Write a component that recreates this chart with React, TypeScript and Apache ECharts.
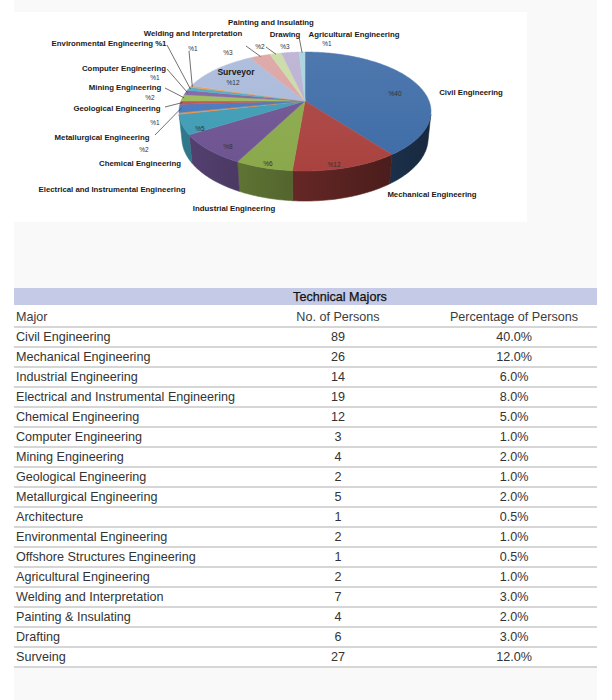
import React, { useEffect, useRef } from "react";
import * as echarts from "echarts";

// ---------------- data ----------------
const tableTitle = "Technical Majors";
const columnHeaders = ["Major", "No. of Persons", "Percentage of Persons"];
const majors = [
  "Civil Engineering",
  "Mechanical Engineering",
  "Industrial Engineering",
  "Electrical and Instrumental Engineering",
  "Chemical Engineering",
  "Computer Engineering",
  "Mining Engineering",
  "Geological Engineering",
  "Metallurgical Engineering",
  "Architecture",
  "Environmental Engineering",
  "Offshore Structures Engineering",
  "Agricultural Engineering",
  "Welding and Interpretation",
  "Painting & Insulating",
  "Drafting",
  "Surveing",
];
const persons = [89, 26, 14, 19, 12, 3, 4, 2, 5, 1, 2, 1, 2, 7, 4, 6, 27];
const percentages = [
  "40.0%", "12.0%", "6.0%", "8.0%", "5.0%", "1.0%", "2.0%", "1.0%", "2.0%",
  "0.5%", "1.0%", "0.5%", "1.0%", "3.0%", "2.0%", "3.0%", "12.0%",
];

// order of the majors around the pie, clockwise from 12 o'clock
const pieOrder = [0, 1, 2, 3, 4, 9, 8, 7, 6, 5, 10, 11, 16, 13, 14, 15, 12];
const pieColors = [
  "#3f6ca7", "#a9423f", "#8aa84b", "#6d5391", "#3d9bb4", "#ef8a3a", "#4677bd",
  "#c0504d", "#9bbb59", "#8064a2", "#4bacc6", "#f79646", "#a9b9da", "#dba4a3",
  "#c9dba5", "#bbb0d2", "#a6d2df",
];

// pie data labels (text as printed on the chart)
type PieLabel = { text: string; x: number; y: number; kind: "name" | "value" | "big"; from?: number[]; major?: number };
const pieLabels: PieLabel[] = [
  { text: "Civil Engineering", x: 471, y: 92, kind: "name" },
  { text: "%40", x: 395, y: 93, kind: "value" },
  { text: "Mechanical Engineering", x: 432, y: 194, kind: "name" },
  { text: "%12", x: 334, y: 164, kind: "value" },
  { text: "Industrial Engineering", x: 234, y: 208, kind: "name" },
  { text: "%6", x: 268, y: 163, kind: "value" },
  { text: "Electrical and Instrumental Engineering", x: 112, y: 189, kind: "name" },
  { text: "%8", x: 228, y: 146, kind: "value" },
  { text: "Chemical Engineering", x: 140, y: 163, kind: "name" },
  { text: "%5", x: 200, y: 128, kind: "value" },
  { text: "Metallurgical Engineering", x: 102, y: 137, kind: "name", from: [155, 135], major: 8 },
  { text: "%2", x: 144, y: 149, kind: "value" },
  { text: "Geological Engineering", x: 117, y: 108, kind: "name", from: [165, 107], major: 7 },
  { text: "%1", x: 155, y: 122, kind: "value" },
  { text: "Mining Engineering", x: 125, y: 87, kind: "name", from: [165, 88], major: 6 },
  { text: "%2", x: 150, y: 97, kind: "value" },
  { text: "Computer Engineering", x: 124, y: 68, kind: "name", from: [167, 69], major: 5 },
  { text: "%1", x: 155, y: 77, kind: "value" },
  { text: "Environmental Engineering %1", x: 109, y: 43, kind: "name", from: [167, 45], major: 10 },
  { text: "Welding and Interpretation", x: 193, y: 33, kind: "name" },
  { text: "%1", x: 193, y: 48, kind: "value", from: [189, 51], major: 11 },
  { text: "Surveyor", x: 236, y: 72, kind: "big" },
  { text: "%12", x: 233, y: 82, kind: "value" },
  { text: "%3", x: 228, y: 52, kind: "value", from: [246, 46], major: 13 },
  { text: "%2", x: 260, y: 46, kind: "value", from: [266, 47], major: 14 },
  { text: "%3", x: 285, y: 46, kind: "value" },
  { text: "Painting and Insulating", x: 271, y: 22, kind: "name" },
  { text: "Drawing", x: 285, y: 34, kind: "name" },
  { text: "Agricultural Engineering", x: 354, y: 34, kind: "name", from: [299, 37], major: 12 },
  { text: "%1", x: 327, y: 43, kind: "value" },
];

// ---------------- pie geometry (perspective 3D pie) ----------------
const PIE_CX = 305;
const PIE_CY = 101;
const FOCAL = 621.9;
const DIST = 5.015;
const TILT = (27.7 * Math.PI) / 180;
const THICK = 0.246;
const SA = Math.sin(TILT);
const CA = Math.cos(TILT);
const VIS0 = (Math.acos(-1 / (DIST * CA)) * 180) / Math.PI;
const VIS1 = 360 - VIS0;

function proj(deg: number, h: number, r = 1): number[] {
  const p = (deg * Math.PI) / 180;
  const x = r * Math.sin(p);
  const z = -r * Math.cos(p);
  const dep = DIST - z * CA - h * SA;
  return [PIE_CX + (FOCAL * x) / dep, PIE_CY + (FOCAL * (z * SA - h * CA)) / dep];
}
function arc(a0: number, a1: number, h: number): number[][] {
  const n = Math.max(2, Math.ceil(Math.abs(a1 - a0) / 1.2));
  const pts: number[][] = [];
  for (let i = 0; i <= n; i++) pts.push(proj(a0 + ((a1 - a0) * i) / n, h));
  return pts;
}
function rgb(hex: string): number[] {
  const v = parseInt(hex.slice(1), 16);
  return [(v >> 16) & 255, (v >> 8) & 255, v & 255];
}
function shade(hex: string, k: number): string {
  const [r, g, b] = rgb(hex);
  return `rgb(${Math.round(r * k)},${Math.round(g * k)},${Math.round(b * k)})`;
}
function lighten(hex: string, k: number): string {
  const [r, g, b] = rgb(hex);
  return `rgb(${Math.round(r + (255 - r) * k)},${Math.round(g + (255 - g) * k)},${Math.round(b + (255 - b) * k)})`;
}

const FONT = "'Liberation Sans', Arial, Helvetica, sans-serif";

export default function App() {
  const ref = useRef<HTMLDivElement>(null);

  useEffect(() => {
    if (!ref.current) return;
    const chart = echarts.init(ref.current, undefined, { renderer: "svg" });

    const pieValues = pieOrder.map((i) => persons[i]);
    const total = pieValues.reduce((a, b) => a + b, 0);
    const starts: number[] = [];
    const ends: number[] = [];
    let cum = 0;
    pieValues.forEach((v) => {
      starts.push((cum / total) * 360);
      cum += v;
      ends.push((cum / total) * 360);
    });

    const left = proj(270, 0)[0];
    const right = proj(90, 0)[0];

    const renderItem = (params: any) => {
      const k = params.dataIndex;
      const color = pieColors[k];
      const a0 = starts[k];
      const a1 = ends[k];
      const children: any[] = [];
      const w0 = Math.max(a0, VIS0);
      const w1 = Math.min(a1, VIS1);
      if (w1 > w0) {
        const pts = arc(w0, w1, 0).concat(arc(w1, w0, -THICK));
        const grad = new echarts.graphic.LinearGradient(
          left, 0, right, 0,
          [
            { offset: 0, color: shade(color, 0.78) },
            { offset: 1, color: shade(color, 0.38) },
          ],
          true
        );
        children.push({
          type: "polygon",
          shape: { points: pts },
          style: { fill: grad, stroke: grad, lineWidth: 0.6 },
        });
      }
      const top = [[PIE_CX, PIE_CY]].concat(arc(a0, a1, 0));
      const tgrad = new echarts.graphic.LinearGradient(
        0, 50, 0, 175,
        [
          { offset: 0, color: lighten(color, 0.08) },
          { offset: 1, color: color },
        ],
        true
      );
      children.push({
        type: "polygon",
        shape: { points: top },
        style: { fill: tgrad, stroke: tgrad, lineWidth: 0.5 },
      });
      return { type: "group", children };
    };

    const elements: any[] = [];
    // page panels
    elements.push({ type: "rect", z: 0, shape: { x: 14, y: 0, width: 583, height: 700 }, style: { fill: "#f9f9f9" } });
    elements.push({ type: "rect", z: 0, shape: { x: 14, y: 12, width: 513, height: 210 }, style: { fill: "#ffffff" } });
    elements.push({ type: "rect", z: 0, shape: { x: 14, y: 288, width: 583, height: 380 }, style: { fill: "#ffffff" } });

    // pie labels + leader lines
    pieLabels.forEach((l) => {
      const isValue = l.kind === "value";
      elements.push({
        type: "text",
        z: 100,
        x: l.x,
        y: l.y,
        style: {
          text: l.text,
          fill: isValue ? "#333333" : "#1a1a1a",
          fontSize: isValue ? 6.5 : l.kind === "big" ? 8.6 : 7.8,
          fontWeight: isValue ? "normal" : "bold",
          fontFamily: FONT,
          align: "center",
          verticalAlign: "middle",
          textAlign: "center",
          textVerticalAlign: "middle",
        },
      });
      if (l.from && l.major !== undefined) {
        const pos = pieOrder.indexOf(l.major);
        const mid = (starts[pos] + ends[pos]) / 2;
        const end = proj(mid, 0, 0.985);
        elements.push({
          type: "line",
          z: 100,
          shape: { x1: l.from[0], y1: l.from[1], x2: end[0], y2: end[1] },
          style: { stroke: "#333333", lineWidth: 0.7 },
        });
      }
    });

    // table
    const colX = [16, 338, 514];
    const TFS = 12.6;
    elements.push({ type: "rect", z: 1, shape: { x: 14, y: 288, width: 583, height: 17 }, style: { fill: "#c5cbe6" } });
    elements.push({
      type: "text", z: 2, x: 340, y: 297,
      style: {
        text: tableTitle, fill: "#111111", stroke: "#111111", lineWidth: 0.25, fontSize: TFS, fontFamily: FONT,
        align: "center", verticalAlign: "middle", textAlign: "center", textVerticalAlign: "middle",
      },
    });
    columnHeaders.forEach((h, c) => {
      elements.push({
        type: "text", z: 2, x: colX[c], y: 317,
        style: {
          text: h, fill: "#3c3c3c", fontSize: TFS, fontFamily: FONT,
          align: c === 0 ? "left" : "center", verticalAlign: "middle",
          textAlign: c === 0 ? "left" : "center", textVerticalAlign: "middle",
        },
      });
    });
    elements.push({ type: "line", z: 2, shape: { x1: 14, y1: 327, x2: 597, y2: 327 }, style: { stroke: "#d6d6d6", lineWidth: 2 } });
    majors.forEach((m, i) => {
      const y = 337 + 20 * i;
      const cells = [m, String(persons[i]), percentages[i]];
      cells.forEach((t, c) => {
        elements.push({
          type: "text", z: 2, x: colX[c], y,
          style: {
            text: t, fill: "#333333", fontSize: TFS, fontFamily: FONT,
            align: c === 0 ? "left" : "center", verticalAlign: "middle",
            textAlign: c === 0 ? "left" : "center", textVerticalAlign: "middle",
          },
        });
      });
      elements.push({ type: "line", z: 2, shape: { x1: 14, y1: y + 10, x2: 597, y2: y + 10 }, style: { stroke: "#d6d6d6", lineWidth: 2 } });
    });

    chart.setOption({
      animation: false,
      backgroundColor: "#ffffff",
      graphic: { elements },
      series: [
        {
          type: "custom",
          coordinateSystem: "none",
          silent: true,
          z: 5,
          renderItem,
          data: pieOrder.map((i) => ({ name: majors[i], value: persons[i] })),
        },
      ],
    });

    return () => chart.dispose();
  }, []);

  return <div ref={ref} style={{ position: "absolute", left: 0, top: 0, width: 612, height: 700 }} />;
}
